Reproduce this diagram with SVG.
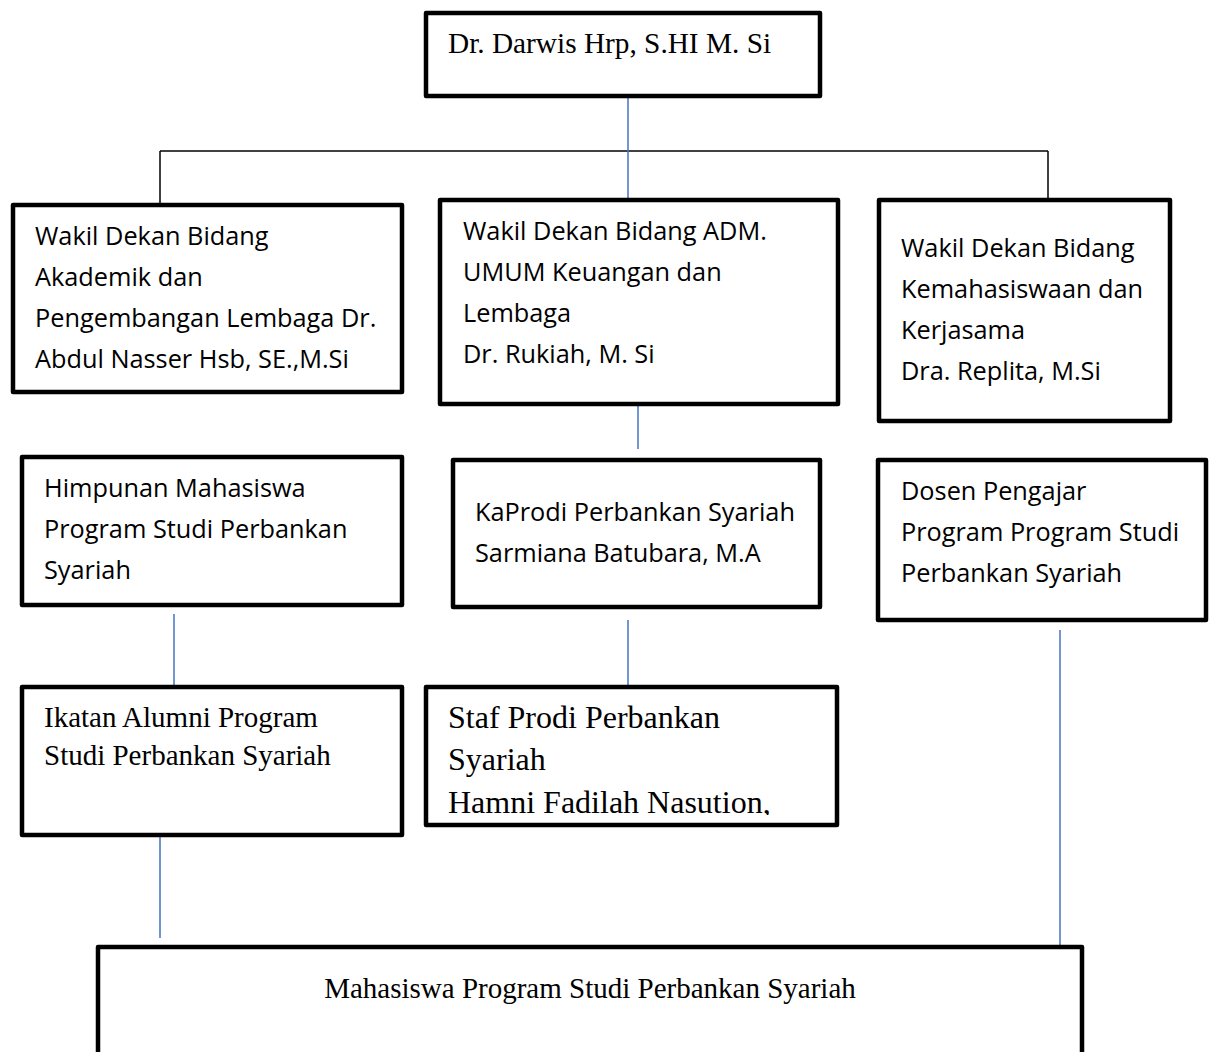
<svg xmlns="http://www.w3.org/2000/svg" width="1215" height="1052" viewBox="0 0 1215 1052">
<defs>
<style>
.box{fill:#fff;stroke:#000;stroke-width:4.5;stroke-linejoin:round}
.sans{font-family:"Open Sans","Liberation Sans",sans-serif;font-size:25.3px;fill:#000}
.serif{font-family:"Liberation Serif","Times New Roman",serif;fill:#000}
.blue{stroke:#4472C4;stroke-width:1.5;fill:none}
.blk{stroke:#000;stroke-width:1.5;fill:none}
</style>
<clipPath id="clipStaf"><rect x="426" y="687" width="411" height="128"/></clipPath>
</defs>
<rect width="1215" height="1052" fill="#fff"/>
<g id="connectors">
<line class="blk" x1="160" y1="151" x2="1048" y2="151"/>
<line class="blk" x1="160" y1="151" x2="160" y2="205"/>
<line class="blk" x1="1048" y1="151" x2="1048" y2="200"/>
<line class="blue" x1="628" y1="98" x2="628" y2="200"/>
<line class="blue" x1="638" y1="404" x2="638" y2="449"/>
<line class="blue" x1="174" y1="614" x2="174" y2="685"/>
<line class="blue" x1="628" y1="620" x2="628" y2="685"/>
<line class="blue" x1="160" y1="837" x2="160" y2="938"/>
<line class="blue" x1="1060" y1="630" x2="1060" y2="947"/>
</g>
<g id="dekan">
<rect class="box" x="426" y="13" width="394" height="83"/>
<text class="serif" font-size="29.3" x="448" y="53">Dr. Darwis Hrp, S.HI M. Si</text>
</g>
<g id="wd1">
<rect class="box" x="13" y="205" width="389" height="187"/>
<text class="sans"><tspan x="35" y="245">Wakil Dekan Bidang</tspan><tspan x="35" y="286">Akademik dan</tspan><tspan x="35" y="327">Pengembangan Lembaga Dr.</tspan><tspan x="35" y="368">Abdul Nasser Hsb, SE.,M.Si</tspan></text>
</g>
<g id="wd2">
<rect class="box" x="440" y="200" width="398" height="204"/>
<text class="sans"><tspan x="463" y="240">Wakil Dekan Bidang ADM.</tspan><tspan x="463" y="281">UMUM Keuangan dan</tspan><tspan x="463" y="322">Lembaga</tspan><tspan x="463" y="363">Dr. Rukiah, M. Si</tspan></text>
</g>
<g id="wd3">
<rect class="box" x="879" y="200" width="291" height="221"/>
<text class="sans"><tspan x="901" y="257">Wakil Dekan Bidang</tspan><tspan x="901" y="298">Kemahasiswaan dan</tspan><tspan x="901" y="339">Kerjasama</tspan><tspan x="901" y="380">Dra. Replita, M.Si</tspan></text>
</g>
<g id="hima">
<rect class="box" x="22" y="457" width="380" height="148"/>
<text class="sans"><tspan x="44" y="497">Himpunan Mahasiswa</tspan><tspan x="44" y="538">Program Studi Perbankan</tspan><tspan x="44" y="579">Syariah</tspan></text>
</g>
<g id="kaprodi">
<rect class="box" x="453" y="460" width="367" height="147"/>
<text class="sans"><tspan x="475" y="521">KaProdi Perbankan Syariah</tspan><tspan x="475" y="562">Sarmiana Batubara, M.A</tspan></text>
</g>
<g id="dosen">
<rect class="box" x="878" y="460" width="328" height="160"/>
<text class="sans"><tspan x="901" y="500">Dosen Pengajar</tspan><tspan x="901" y="541">Program Program Studi</tspan><tspan x="901" y="582">Perbankan Syariah</tspan></text>
</g>
<g id="alumni">
<rect class="box" x="22" y="687" width="380" height="148"/>
<text class="serif" font-size="29"><tspan x="44" y="727">Ikatan Alumni Program</tspan><tspan x="44" y="765">Studi Perbankan Syariah</tspan></text>
</g>
<g id="staf">
<rect class="box" x="426" y="687" width="411" height="138"/>
<text class="serif" font-size="32" clip-path="url(#clipStaf)"><tspan x="448" y="728">Staf Prodi Perbankan</tspan><tspan x="448" y="770">Syariah</tspan><tspan x="448" y="813">Hamni Fadilah Nasution,</tspan></text>
</g>
<g id="mahasiswa">
<rect class="box" x="98" y="947" width="984" height="140"/>
<text class="serif" font-size="29" x="590" y="998" text-anchor="middle">Mahasiswa Program Studi Perbankan Syariah</text>
</g>
</svg>
